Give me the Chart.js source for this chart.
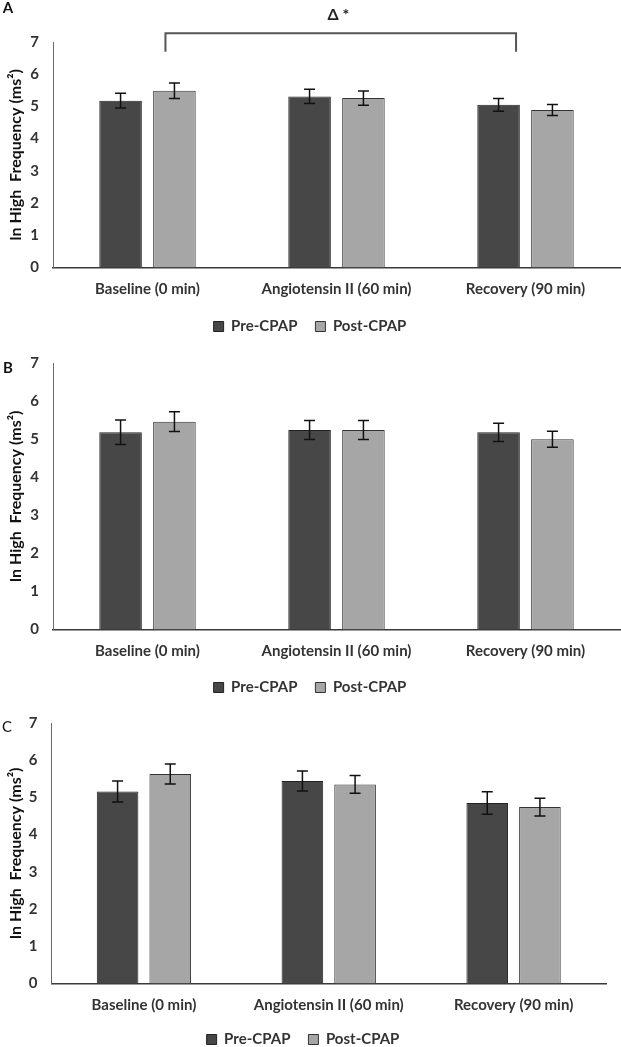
<!DOCTYPE html>
<html><head><meta charset="utf-8">
<script src="https://cdn.jsdelivr.net/npm/chart.js@4.4.0/dist/chart.umd.min.js"></script>
<style>
html,body{margin:0;padding:0;background:#fff;overflow:hidden;width:621px;height:1047px;position:relative;}
canvas{position:absolute;left:0;}
</style></head><body>
<canvas id="cA" width="621" height="344" style="top:0px"></canvas>
<canvas id="cB" width="621" height="365" style="top:340px"></canvas>
<canvas id="cC" width="621" height="357" style="top:700px"></canvas>
<script>
// ---- data ----
const categories = ['Baseline (0 min)', 'Angiotensin II (60 min)', 'Recovery (90 min)'];
const seriesNames = ['Pre-CPAP', 'Post-CPAP'];
const yTicks = [0, 1, 2, 3, 4, 5, 6, 7];
const preA = [5.18, 5.31, 5.05];
const postA = [5.49, 5.26, 4.89];
const preErrA = [0.23, 0.22, 0.20];
const postErrA = [0.24, 0.22, 0.17];
const preB = [5.18, 5.24, 5.18];
const postB = [5.46, 5.24, 5.00];
const preErrB = [0.32, 0.25, 0.24];
const postErrB = [0.26, 0.25, 0.21];
const preC = [5.16, 5.44, 4.85];
const postC = [5.63, 5.35, 4.74];
const preErrC = [0.28, 0.27, 0.30];
const postErrC = [0.27, 0.24, 0.24];
const panelLetters = ['A', 'B', 'C'];
const sigLabel = 'Δ *';
const yTitle = 'ln High  Frequency (ms²)';

// ---- styling ----
const FONT = 'Lato, "Liberation Sans", sans-serif';
Chart.defaults.font.family = FONT;
const PRE_COLOR = '#474747';
const POST_COLOR = '#a6a6a6';
const TEXT = '#333';

const errorBars = {
  id: 'errorBars',
  afterDatasetsDraw(chart) {
    const ctx = chart.ctx, y = chart.scales.y;
    chart.data.datasets.forEach((ds, i) => {
      const meta = chart.getDatasetMeta(i);
      meta.data.forEach((bar, j) => {
        const v = ds.data[j], e = ds.errors[j];
        const yt = y.getPixelForValue(v + e), yb = y.getPixelForValue(v - e);
        ctx.save();
        ctx.strokeStyle = '#111';
        ctx.lineWidth = 1.5;
        ctx.beginPath();
        ctx.moveTo(bar.x, yt); ctx.lineTo(bar.x, yb);
        ctx.moveTo(bar.x - 5.5, yt); ctx.lineTo(bar.x + 5.5, yt);
        ctx.moveTo(bar.x - 5.5, yb); ctx.lineTo(bar.x + 5.5, yb);
        ctx.stroke();
        ctx.restore();
      });
    });
  }
};

const panelDecor = {
  id: 'panelDecor',
  afterDraw(chart, args, o) {
    const ctx = chart.ctx;
    ctx.save();
    ctx.fillStyle = '#111';
    ctx.font = (o.bold ? 'bold ' : '') + '15px ' + FONT;
    ctx.textAlign = 'center';
    ctx.textBaseline = 'middle';
    ctx.fillText(o.letter, o.lx, o.ly);
    if (o.bracket) {
      const xs = chart.scales.x, ys = chart.scales.y;
      const cw = xs.getPixelForValue(1) - xs.getPixelForValue(0);
      const x0 = xs.getPixelForValue(o.bracket.from) + o.bracket.offFrom * cw;
      const x1 = xs.getPixelForValue(o.bracket.to) + o.bracket.offTo * cw;
      const yt = ys.getPixelForValue(o.bracket.top), yb = ys.getPixelForValue(o.bracket.bottom);
      ctx.strokeStyle = '#555';
      ctx.lineWidth = 2;
      ctx.beginPath();
      ctx.moveTo(x0, yb); ctx.lineTo(x0, yt); ctx.lineTo(x1, yt); ctx.lineTo(x1, yb);
      ctx.stroke();
      ctx.fillStyle = '#222';
      ctx.font = 'bold 16px ' + FONT;
      ctx.fillText(sigLabel, xs.getPixelForValue(o.bracket.labelAt) + 2, ys.getPixelForValue(o.bracket.labelY));
    }
    ctx.restore();
  }
};

function makePanel(id, pre, post, preErr, postErr, cfg) {
  new Chart(document.getElementById(id), {
    type: 'bar',
    data: {
      labels: categories,
      datasets: [
        { label: seriesNames[0], data: pre, errors: preErr, backgroundColor: PRE_COLOR, borderColor: '#222', borderWidth: 1, categoryPercentage: 0.57, barPercentage: 0.79 },
        { label: seriesNames[1], data: post, errors: postErr, backgroundColor: POST_COLOR, borderColor: '#333', borderWidth: 1, categoryPercentage: 0.57, barPercentage: 0.79 }
      ]
    },
    options: {
      responsive: false,
      animation: false,
      devicePixelRatio: 1,
      layout: { padding: { top: cfg.padTop, right: cfg.padRight, left: 0, bottom: 0 } },
      plugins: {
        legend: {
          position: 'bottom',
          labels: { boxWidth: 10, boxHeight: 10, padding: 18, color: TEXT, font: { size: 15, weight: 'bold' } }
        },
        tooltip: { enabled: false },
        panelDecor: cfg.decor
      },
      scales: {
        x: {
          grid: { display: false, drawTicks: false },
          border: { display: true, color: '#3a3a3a', width: 1.5 },
          ticks: { color: TEXT, font: { size: 15, weight: 'bold' }, padding: 13, maxRotation: 0, autoSkip: false },
          afterFit(s) { s.height = cfg.xH; }
        },
        y: {
          min: 0, max: 7,
          afterBuildTicks(s) { s.ticks = yTicks.map(v => ({ value: v })); },
          grid: { display: false, drawTicks: false },
          border: { display: true, color: '#6a6a6a', width: 1 },
          ticks: { color: TEXT, font: { size: 15, weight: 'bold' }, padding: 14 },
          title: { display: true, text: yTitle, color: '#111', font: { size: 16, weight: 'bold' }, padding: { top: 6, bottom: 0 } },
          afterFit(s) { s.width = cfg.yW; }
        }
      }
    },
    plugins: [errorBars, panelDecor]
  });
}

makePanel('cA', preA, postA, preErrA, postErrA, {
  padTop: 42, padRight: 1, xH: 33.5, yW: 53,
  decor: { letter: panelLetters[0], bold: true, lx: 8, ly: 8,
    bracket: { from: 0, offFrom: 0.095, to: 2, offTo: -0.05, top: 7.27, bottom: 6.7, labelAt: 1, labelY: 7.85 } }
});
makePanel('cB', preB, postB, preErrB, postErrB, {
  padTop: 22, padRight: 1, xH: 32.5, yW: 53,
  decor: { letter: panelLetters[1], bold: true, lx: 8, ly: 28 }
});
makePanel('cC', preC, postC, preErrC, postErrC, {
  padTop: 20, padRight: 15, xH: 30.5, yW: 51.5,
  decor: { letter: panelLetters[2], bold: false, lx: 7, ly: 27 }
});
</script>
</body></html>
